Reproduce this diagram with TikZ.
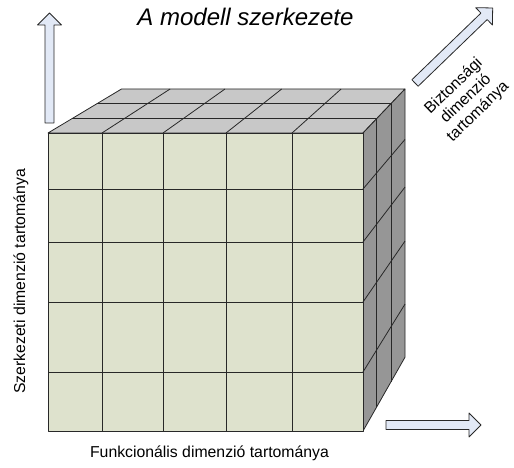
\documentclass[tikz,border=0pt]{standalone}
\usepackage{fontspec}
\setsansfont{Liberation Sans}
\usepackage{tikz}
\usetikzlibrary{calc}

\definecolor{FrontFace}{RGB}{222,226,205}
\definecolor{TopFace}{RGB}{200,200,200}
\definecolor{SideFace}{RGB}{150,150,150}
\definecolor{ArrowFill}{RGB}{226,233,246}
\definecolor{EdgeLine}{RGB}{40,40,40}

\tikzset{
    dimlabel/.style={font=\sffamily\fontsize{15.8}{17.6}\selectfont},
}

\begin{document}
\begin{tikzpicture}
    [font=\sffamily, x=1pt, y=-1pt,
     line width=.8pt, line join=round, draw=EdgeLine,
    ]
    \useasboundingbox (0, 0) rectangle (514, 468);

    % Vanishing point of the depth edges
    \coordinate (V) at (783, -307);

    % Front corners and back corners
    \coordinate (FTL) at (48, 133);
    \coordinate (FTR) at (363, 133);
    \coordinate (FBR) at (363, 431);
    \coordinate (BTL) at ($ (V)!.9!(FTL) $);
    \coordinate (BTR) at ($ (V)!.9!(FTR) $);
    \coordinate (BBR) at ($ (V)!.9!(FBR) $);

    % Top face
    \draw[fill=TopFace] (FTL) -- (FTR) -- (BTR) -- (BTL) -- cycle;
    % Side face
    \draw[fill=SideFace] (FTR) -- (FBR) -- (BBR) -- (BTR) -- cycle;
    % Front face
    \draw[fill=FrontFace] (FTL) rectangle (FBR);

    % Columns
    \foreach \cx in {102, 163, 226, 292} {
        \draw (\cx, 133) -- (\cx, 431);
        \draw (\cx, 133) -- ($ (V)!.9!(\cx, 133) $);
    }
    % Rows
    \foreach \ry in {189, 242, 302, 372} {
        \draw (48, \ry) -- (363, \ry);
        \draw (363, \ry) -- ($ (V)!.9!(363, \ry) $);
    }
    % Depth layers
    \foreach \d in {.967, .933} {
        \draw ($ (V)!\d!(FTL) $) -- ($ (V)!\d!(FTR) $) -- ($ (V)!\d!(FBR) $);
    }

    % Dimension arrows
    \foreach \ax / \ay / \len / \angle in
             {49.5/123/110/90, 386/425/95/0, 415/83/108/44} {
        \begin{scope}[shift={(\ax, \ay)}, rotate=\angle]
            \draw[fill=ArrowFill]
                (0, -4.5) -- (\len-12, -4.5) -- (\len-12, -12) -- (\len, 0) --
                (\len-12, 12) -- (\len-12, 4.5) -- (0, 4.5) -- cycle;
        \end{scope}
    }

    % Labels
    \node (title) [anchor=base, font=\sffamily\itshape\fontsize{24}{28}\selectfont]
        at (245.5, 26) {A modell szerkezete};
    \node (func) [dimlabel, anchor=base] at (209.5, 457)
        {Funkcionális dimenzió tartománya};
    \node (struct) [dimlabel, anchor=base, rotate=90] at (25, 281.5)
        {Szerkezeti dimenzió tartománya};
    \node (secur) [dimlabel, rotate=44, align=center] at (466, 99)
        {Biztonsági\\dimenzió\\tartománya};
\end{tikzpicture}
\end{document}
